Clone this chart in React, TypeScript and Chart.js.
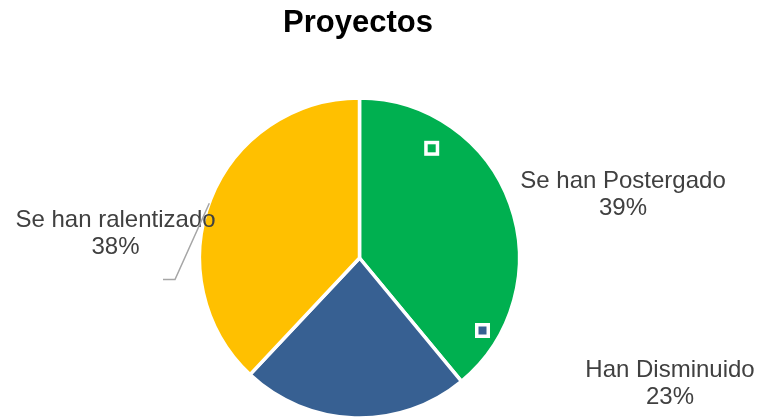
import React, { useEffect, useRef } from "react";
import { Chart, registerables } from "chart.js";

Chart.register(...registerables);

const chartTitle = "Proyectos";
const categories = ["Se han Postergado", "Han Disminuido", "Se han ralentizado"];
const values = [39, 23, 38];
const sliceColors = ["#00B050", "#376092", "#FFC000"];

const FONT = '"Liberation Sans", Arial, sans-serif';

const overlayPlugin = {
  id: "overlay",
  afterDatasetsDraw(chart: any) {
    const ctx = chart.ctx as CanvasRenderingContext2D;
    const total = values.reduce((a, b) => a + b, 0);
    const pct = values.map((v) => Math.round((v / total) * 100) + "%");
    ctx.save();

    // selection handles (as in the reference screenshot)
    const handles = [
      { x: 431.7, y: 148.3, inner: sliceColors[0] },
      { x: 482.5, y: 330.5, inner: sliceColors[1] },
    ];
    handles.forEach((h) => {
      ctx.fillStyle = "#FFFFFF";
      ctx.fillRect(h.x - 7.5, h.y - 7.5, 15, 15);
      ctx.fillStyle = h.inner;
      ctx.fillRect(h.x - 4, h.y - 4, 8, 8);
    });

    // labels
    ctx.fillStyle = "#404040";
    ctx.font = `24px ${FONT}`;
    ctx.textAlign = "center";
    ctx.textBaseline = "alphabetic";
    const labelPos = [
      { x: 623, y1: 187.5, y2: 215 },
      { x: 670, y1: 377, y2: 403.5 },
      { x: 115.5, y1: 227, y2: 254 },
    ];
    labelPos.forEach((p, i) => {
      ctx.fillText(categories[i], p.x, p.y1);
      ctx.fillText(pct[i], p.x, p.y2);
    });

    // leader line
    ctx.strokeStyle = "#A6A6A6";
    ctx.lineWidth = 1.5;
    ctx.beginPath();
    ctx.moveTo(209.3, 203.3);
    ctx.lineTo(175, 279.5);
    ctx.lineTo(163, 279.5);
    ctx.stroke();

    // title
    ctx.fillStyle = "#000000";
    ctx.font = `bold 31px ${FONT}`;
    ctx.fillText(chartTitle, 358, 32);
    ctx.restore();
  },
};

export default function App() {
  const ref = useRef<HTMLCanvasElement>(null);
  useEffect(() => {
    if (!ref.current) return;
    const chart = new Chart(ref.current, {
      type: "pie",
      data: {
        labels: categories,
        datasets: [
          {
            data: values,
            backgroundColor: sliceColors,
            borderColor: "#FFFFFF",
            borderWidth: 3.5,
            clip: false as any,
          },
        ],
      },
      options: {
        responsive: false,
        animation: false,
        radius: 160,
        rotation: 0,
        layout: { padding: { left: 150, right: 197, top: 100, bottom: 2 } },
        plugins: {
          legend: { display: false },
          title: { display: false },
          tooltip: { enabled: false },
        },
      } as any,
      plugins: [overlayPlugin],
    });
    return () => chart.destroy();
  }, []);
  return (
    <div style={{ position: "fixed", left: 0, top: 0, width: 766, height: 418, background: "#FFFFFF", overflow: "hidden" }}>
      <canvas ref={ref} width={766} height={418} style={{ display: "block" }} />
    </div>
  );
}
